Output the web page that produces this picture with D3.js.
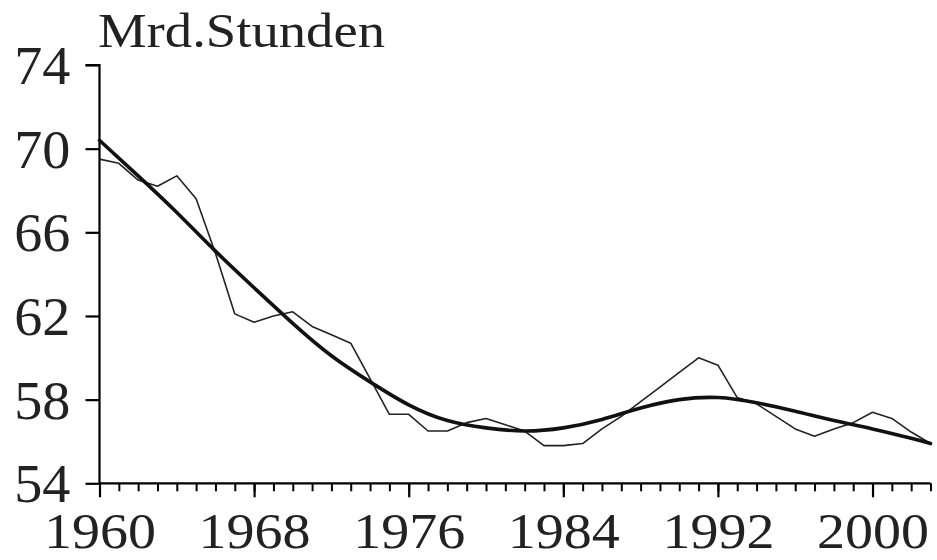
<!DOCTYPE html>
<html><head><meta charset="utf-8">
<script src="https://cdn.jsdelivr.net/npm/d3@7"></script>
<style>html,body{margin:0;padding:0;background:#fff}svg{display:block}</style>
</head><body>
<svg id="c" width="937" height="560"></svg>
<script>
const years = d3.range(1960, 2004);
const hours = [69.5, 69.3, 68.5, 68.2, 68.7, 67.6, 65.0, 62.1, 61.7, 62.0,
  62.2, 61.5, 61.1, 60.7, 59.0, 57.3, 57.3, 56.5, 56.5, 56.9,
  57.1, 56.8, 56.5, 55.8, 55.8, 55.9, 56.6, 57.2, 57.9, 58.6,
  59.3, 60.0, 59.65, 58.1, 57.8, 57.2, 56.6, 56.25, 56.6, 56.9,
  57.4, 57.1, 56.45, 55.9];
const trendYears = [1960, 1962, 1964, 1966, 1968, 1970, 1972, 1974, 1976, 1978, 1980, 1982, 1984, 1986, 1988, 1990, 1992, 1994, 1996, 1998, 2000, 2002, 2003];
const trendValues = [70.4, 68.7, 66.95, 65.1, 63.35, 61.65, 60.1, 58.85, 57.75, 57.0, 56.65, 56.5, 56.65, 57.05, 57.6, 58.0, 58.1, 57.85, 57.45, 57.0, 56.6, 56.15, 55.9];
const yTicks = [54, 58, 62, 66, 70, 74];
const xTickLabels = [1960, 1968, 1976, 1984, 1992, 2000];
const unitLabel = "Mrd.Stunden";

const svg = d3.select("#c");
const x = d3.scaleLinear().domain([1960, 2003]).range([99.5, 930.5]);
const y = d3.scaleLinear().domain([54, 74]).range([483.3, 65]);
const font = "Liberation Serif, Times New Roman, serif";

// y axis
const yAxis = d3.axisLeft(y).tickValues(yTicks).tickSize(14).tickPadding(14).tickFormat(d3.format("d"));
const gy = svg.append("g").attr("transform", `translate(${x(1960)},0)`).call(yAxis);
gy.select(".domain").attr("stroke", "#000").attr("stroke-width", 2.2)
  .attr("d", `M-14,${y(74)}H0V${y(54)}`);
gy.selectAll(".tick line").attr("stroke", "#000").attr("stroke-width", 2.2);
gy.selectAll(".tick text").attr("font-family", font).attr("font-size", 54)
  .attr("fill", "#222").attr("dy", "0.34em").attr("transform", "scale(1.04,1)");

// x axis minor ticks
const gxm = svg.append("g").attr("transform", `translate(0,${y(54)})`)
  .call(d3.axisBottom(x).tickValues(years).tickSize(8).tickFormat(""));
gxm.select(".domain").attr("stroke", "#000").attr("stroke-width", 2.2).attr("d", `M${x(1960)},0H${x(2003)}`);
gxm.selectAll(".tick line").attr("stroke", "#000").attr("stroke-width", 2);

// x axis major ticks
const gx = svg.append("g").attr("transform", `translate(0,${y(54)})`)
  .call(d3.axisBottom(x).tickValues(xTickLabels).tickSize(14).tickPadding(0).tickFormat(d3.format("d")));
gx.select(".domain").remove();
gx.selectAll(".tick line").attr("stroke", "#000").attr("stroke-width", 2.2);
gx.selectAll(".tick text").attr("font-family", font).attr("font-size", 51)
  .attr("fill", "#222").attr("y", 65).attr("dy", 0)
  .attr("textLength", 112).attr("lengthAdjust", "spacingAndGlyphs");

// title
svg.append("text").attr("x", 98).attr("y", 47).attr("font-family", font)
  .attr("font-size", 48).attr("fill", "#222").attr("textLength", 287)
  .attr("lengthAdjust", "spacingAndGlyphs").text(unitLabel);

// thin actual series
const lineThin = d3.line().x((d, i) => x(years[i])).y(d => y(d));
svg.append("path").datum(hours).attr("d", lineThin).attr("fill", "none")
  .attr("stroke", "#222").attr("stroke-width", 1.6).attr("stroke-linejoin", "round");

// thick trend
const lineThick = d3.line().x((d, i) => x(trendYears[i])).y(d => y(d)).curve(d3.curveNatural);
svg.append("path").datum(trendValues).attr("d", lineThick).attr("fill", "none")
  .attr("stroke", "#111").attr("stroke-width", 3.6).attr("stroke-linecap", "round");
</script>
</body></html>
